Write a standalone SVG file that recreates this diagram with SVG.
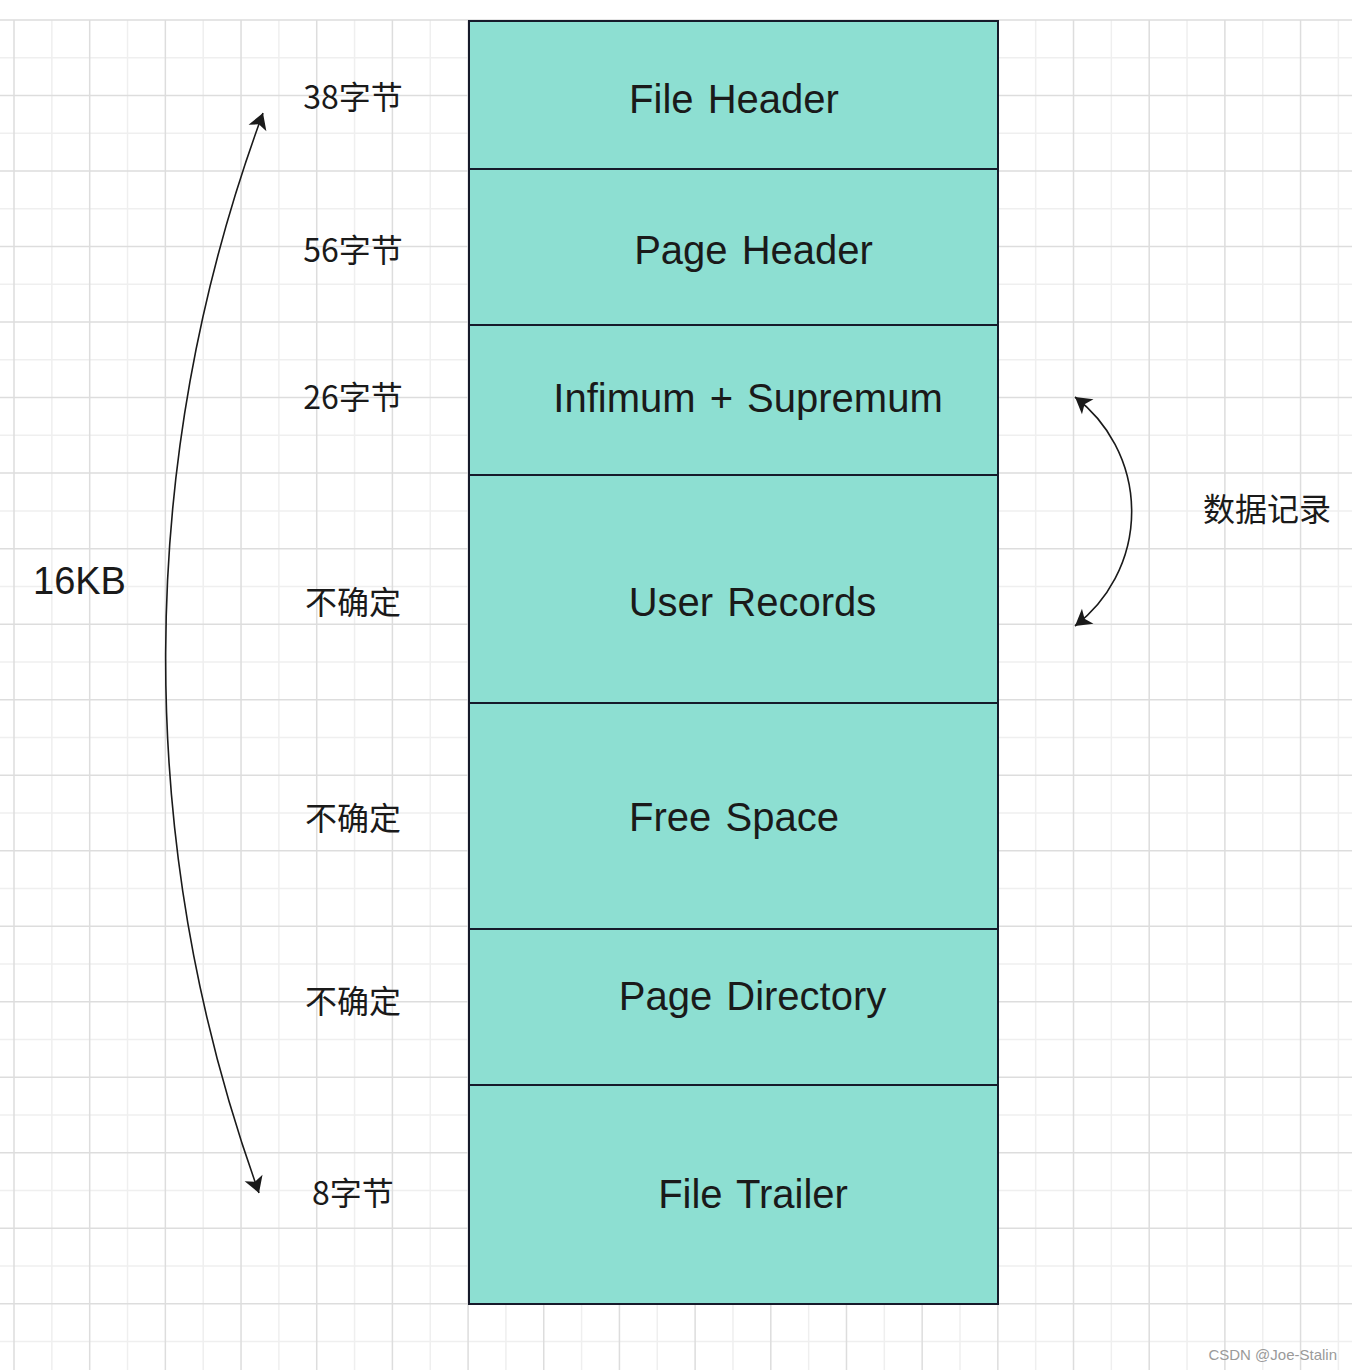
<svg xmlns="http://www.w3.org/2000/svg" width="1352" height="1370" viewBox="0 0 1352 1370">
<style>
.gl{stroke:#efefef;stroke-width:1.5;fill:none}
.gd{stroke:#dddddd;stroke-width:1.5;fill:none}
.box{fill:#8ddfd2;stroke:#161a2a;stroke-width:2}
.lbl{font-family:"Liberation Sans","Noto Sans CJK SC",sans-serif;font-size:40px;fill:#1a1a1a;text-anchor:middle;word-spacing:3px}
.cjk{font-family:"Noto Sans CJK SC",sans-serif;font-size:32px;fill:#1a1a1a;text-anchor:middle}
.edge{fill:none;stroke:#1a1a1a;stroke-width:1.6}
</style>
<defs>
<marker id="arr" viewBox="-18 -11 19 22" refX="0" refY="0" markerWidth="19" markerHeight="22" markerUnits="userSpaceOnUse" orient="auto-start-reverse">
<path d="M0,0 L-16,-9.5 L-12,0 L-16,9.5 Z" fill="#1a1a1a"/>
</marker>
</defs>
<rect width="1352" height="1370" fill="#ffffff"/>
<g id="grid">
<path class="gl" d="M51.84,20V1370M127.52,20V1370M203.2,20V1370M278.88,20V1370M354.56,20V1370M430.24,20V1370M505.92,20V1370M581.6,20V1370M657.28,20V1370M732.96,20V1370M808.64,20V1370M884.32,20V1370M960,20V1370M1035.68,20V1370M1111.36,20V1370M1187.04,20V1370M1262.72,20V1370M1338.4,20V1370
M0,57.76H1352M0,133.28H1352M0,208.8H1352M0,284.32H1352M0,359.84H1352M0,435.36H1352M0,510.88H1352M0,586.4H1352M0,661.92H1352M0,737.44H1352M0,812.96H1352M0,888.48H1352M0,964H1352M0,1039.52H1352M0,1115.04H1352M0,1190.56H1352M0,1266.08H1352M0,1341.6H1352"/>
<path class="gd" d="M14,20V1370M89.68,20V1370M165.36,20V1370M241.04,20V1370M316.72,20V1370M392.4,20V1370M468.08,20V1370M543.76,20V1370M619.44,20V1370M695.12,20V1370M770.8,20V1370M846.48,20V1370M922.16,20V1370M997.84,20V1370M1073.52,20V1370M1149.2,20V1370M1224.88,20V1370M1300.56,20V1370
M0,20H1352M0,95.52H1352M0,171.04H1352M0,246.56H1352M0,322.08H1352M0,397.6H1352M0,473.12H1352M0,548.64H1352M0,624.16H1352M0,699.68H1352M0,775.2H1352M0,850.72H1352M0,926.24H1352M0,1001.76H1352M0,1077.28H1352M0,1152.8H1352M0,1228.32H1352M0,1303.84H1352"/>
</g>
<g id="file-header"><rect class="box" x="469" y="21" width="529" height="148"/><text class="lbl" x="734" y="113.3">File Header</text></g>
<g id="page-header"><rect class="box" x="469" y="169" width="529" height="156"/><text class="lbl" x="753.5" y="264">Page Header</text></g>
<g id="infimum-supremum"><rect class="box" x="469" y="325" width="529" height="150"/><text class="lbl" x="748" y="412.3">Infimum + Supremum</text></g>
<g id="user-records"><rect class="box" x="469" y="475" width="529" height="228"/><text class="lbl" x="752.5" y="616">User Records</text></g>
<g id="free-space"><rect class="box" x="469" y="703" width="529" height="226"/><text class="lbl" x="734" y="831">Free Space</text></g>
<g id="page-directory"><rect class="box" x="469" y="929" width="529" height="156"/><text class="lbl" x="752.5" y="1010">Page Directory</text></g>
<g id="file-trailer"><rect class="box" x="469" y="1085" width="529" height="219"/><text class="lbl" x="753" y="1207.7">File Trailer</text></g>
<g id="size-labels">
<text class="cjk" x="353" y="109.3">38字节</text>
<text class="cjk" x="353" y="261.7">56字节</text>
<text class="cjk" x="353" y="409.3">26字节</text>
<text class="cjk" x="353" y="613.5">不确定</text>
<text class="cjk" x="353" y="830">不确定</text>
<text class="cjk" x="353" y="1013">不确定</text>
<text class="cjk" x="353" y="1205">8字节</text>
</g>
<g id="total-label"><text x="33" y="594" style="font-family:'Liberation Sans',sans-serif;font-size:38px;fill:#1a1a1a">16KB</text></g>
<g id="records-label"><text x="1267" y="521" class="cjk">数据记录</text></g>
<g id="connectors">
<path class="edge" d="M263,113 A1577,1577 0 0 0 259,1193" marker-start="url(#arr)" marker-end="url(#arr)"/>
<path class="edge" d="M1075,397 A144,144 0 0 1 1075,626" marker-start="url(#arr)" marker-end="url(#arr)"/>
</g>
<text x="1337" y="1360" style="font-family:'Liberation Sans',sans-serif;font-size:15px;fill:#9a9a9a;text-anchor:end">CSDN @Joe-Stalin</text>
</svg>
